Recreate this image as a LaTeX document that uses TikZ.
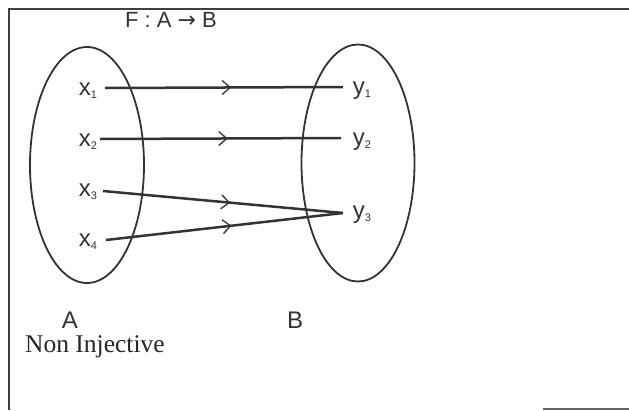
\documentclass[tikz,border=0pt]{standalone}
\usepackage{fontspec}
\setmainfont{Liberation Serif}
\newfontfamily\lab{Liberation Sans}
\newfontfamily\symf{DejaVu Sans}
\usetikzlibrary{arrows.meta,decorations.markings,shapes.geometric}
\newcommand{\vx}[1]{x\raisebox{-3pt}{\fontsize{11}{11}\selectfont #1}}
\newcommand{\vy}[1]{y\raisebox{-3pt}{\fontsize{11}{11}\selectfont #1}}
\begin{document}
\begin{tikzpicture}[x=1pt,y=-1pt,
  frameline/.style={draw=black!75,line width=2.4pt},
  setshape/.style={draw=black!80,line width=1.8pt},
  elem/.style={font=\lab\fontsize{24}{24}\selectfont,text=black!80,inner sep=0pt,outer sep=0pt},
  maparrow/.style={draw=black!80,line width=2.5pt,
    postaction={decorate,decoration={markings,
      mark=at position 0.53 with {\arrow[black!80,line width=1.3pt]{Straight Barb[length=8pt,width=14pt]}}}}}
]
\useasboundingbox (0,0) rectangle (629,410);
% frame
\draw[frameline] (9,410) -- (9,9) -- (629,9);
\draw[draw=black!60,line width=1.8pt] (543,409) -- (629,409);
% sets
\node[setshape,ellipse,minimum width=114pt,minimum height=236pt,inner sep=0pt] (A) at (87,165) {};
\node[setshape,ellipse,minimum width=113pt,minimum height=237pt,inner sep=0pt] (B) at (358,163) {};
% title
\node[elem,font=\lab\fontsize{22}{22}\selectfont] (title) at (171,20) {F : A {\symf →} B};
% elements
\node[elem] (x1) at (88,91) {\vx{1}};
\node[elem] (x2) at (88,142) {\vx{2}};
\node[elem] (x3) at (88,192) {\vx{3}};
\node[elem] (x4) at (88,242) {\vx{4}};
\node[elem] (y1) at (362,91) {\vy{1}};
\node[elem] (y2) at (362,142) {\vy{2}};
\node[elem] (y3) at (362,215) {\vy{3}};
% connector endpoints
\coordinate (s1) at (105,88);
\coordinate (s2) at (100,139);
\coordinate (s3) at (103,191);
\coordinate (s4) at (106,240);
\coordinate (e1) at (343,87);
\coordinate (e2) at (341,138);
\coordinate (e3) at (343,213);
\path[maparrow] (s1) -- (e1);
\path[maparrow] (s2) -- (e2);
\path[maparrow] (s3) -- (e3);
\path[maparrow] (s4) -- (e3);
% set names
\node[elem] (la) at (70,320) {A};
\node[elem] (lb) at (295,320) {B};
\node[anchor=west,inner sep=0pt,font=\fontsize{25.5}{25.5}\selectfont,text=black!85] (cap) at (25,347) {Non Injective};
\end{tikzpicture}
\end{document}
